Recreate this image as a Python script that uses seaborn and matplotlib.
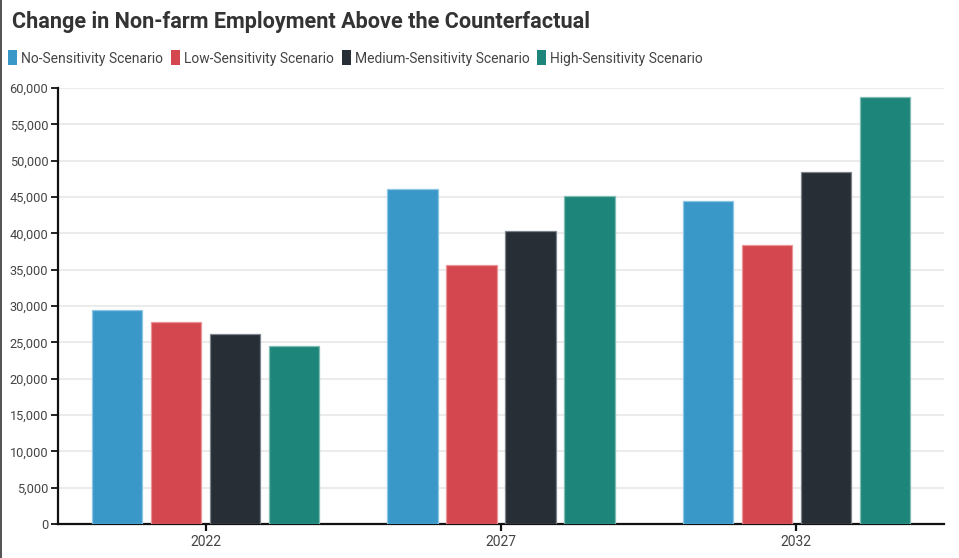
import matplotlib
matplotlib.use("Agg")
import matplotlib.pyplot as plt
import matplotlib.patches as mpatches
import matplotlib.ticker as mticker
import pandas as pd
import seaborn as sns

# Data
years = ["2022", "2027", "2032"]
scenarios = [
    "No-Sensitivity Scenario",
    "Low-Sensitivity Scenario",
    "Medium-Sensitivity Scenario",
    "High-Sensitivity Scenario",
]
no_sensitivity = [29500, 46150, 44500]
low_sensitivity = [27800, 35700, 38400]
medium_sensitivity = [26150, 40300, 48400]
high_sensitivity = [24450, 45100, 58800]
colors = ["#3a98c8", "#d4474e", "#272e35", "#1e857a"]
edge_colors = ["#8cc6e4", "#eb9599", "#7d848b", "#7fbdb5"]
y_ticks = list(range(0, 60001, 5000))

series = [no_sensitivity, low_sensitivity, medium_sensitivity, high_sensitivity]
rows = []
for name, vals in zip(scenarios, series):
    for yr, v in zip(years, vals):
        rows.append({"Year": yr, "Scenario": name, "Jobs": v})
df = pd.DataFrame(rows)

sns.set_theme(style="white")
plt.rcParams["font.family"] = ["Roboto", "DejaVu Sans"]

fig = plt.figure(figsize=(9.59, 5.58), dpi=100)
ax = fig.add_axes([58 / 959, 1 - 524 / 558, (944 - 58) / 959, (524 - 88) / 558])

sns.barplot(
    data=df, x="Year", y="Jobs", hue="Scenario", order=years,
    hue_order=scenarios, palette=colors, gap=0.15, width=0.8,
    saturation=1, ax=ax, legend=False, zorder=3,
)

# Soft outline on each bar, per scenario
for i, container in enumerate(ax.containers):
    for bar in container:
        bar.set_edgecolor(edge_colors[i])
        bar.set_linewidth(0.9)

ax.set_ylim(0, 60000)
ax.set_xlim(-0.5, 2.5)
ax.set_yticks(y_ticks)
ax.yaxis.set_major_formatter(mticker.FuncFormatter(lambda v, p: f"{int(v):,}"))
ax.set_xlabel("")
ax.set_ylabel("")

ax.grid(axis="y", color="#ebebeb", linewidth=1.5, zorder=0)
ax.grid(axis="x", visible=False)
ax.set_axisbelow(True)

for side in ["top", "right"]:
    ax.spines[side].set_visible(False)
for side in ["left", "bottom"]:
    ax.spines[side].set_color("#111111")
    ax.spines[side].set_linewidth(1.6)

ax.tick_params(axis="y", which="major", left=True, length=5, width=1.3,
               color="#111111", labelsize=9.2, labelcolor="#444444", pad=2)
ax.tick_params(axis="x", which="major", bottom=True, length=5, width=1.6,
               color="#111111", labelsize=10, labelcolor="#444444", pad=3)

# Title
fig.text(12 / 959, 1 - 22 / 558, "Change in Non-farm Employment Above the Counterfactual",
         fontsize=15.6, fontweight="bold", color="#333333", va="center", ha="left")

# Legend
handles = [mpatches.FancyBboxPatch((0, 0), 1, 1, boxstyle="round,pad=0,rounding_size=0.2",
                                   facecolor=c, edgecolor="none") for c in colors]
leg = fig.legend(handles, scenarios, loc="center left",
                 bbox_to_anchor=(4 / 959, 1 - 58 / 558), ncol=4, frameon=False,
                 handlelength=0.65, handleheight=1.25, handletextpad=0.3,
                 columnspacing=0.55, fontsize=10, borderaxespad=0, borderpad=0.3)
for t in leg.get_texts():
    t.set_color("#444444")

# Thin left border
fig.add_artist(plt.Line2D([0.5 / 959, 0.5 / 959], [0, 1], transform=fig.transFigure,
                          color="#333333", linewidth=1.2))

fig.savefig("out.png", dpi=100)
